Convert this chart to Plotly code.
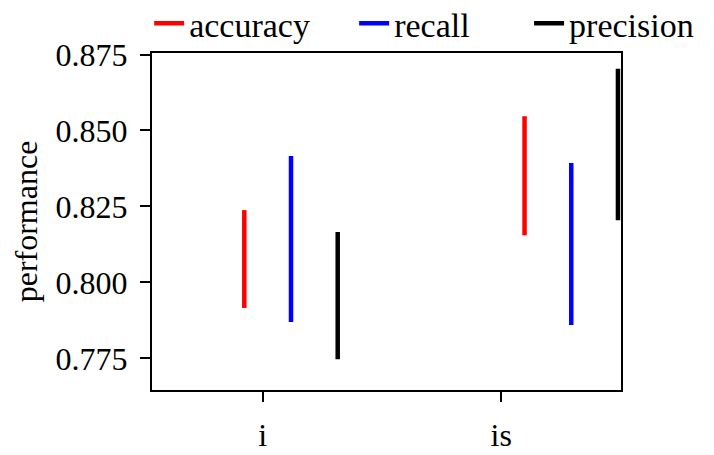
import plotly.graph_objects as go

# Categories and the low/high ends of each performance range
categories = ["i", "is"]
series_names = ["accuracy", "recall", "precision"]
accuracy_low = [0.7916, 0.8155]
accuracy_high = [0.8238, 0.8547]
recall_low = [0.7870, 0.7860]
recall_high = [0.8416, 0.8393]
precision_low = [0.7747, 0.8205]
precision_high = [0.8166, 0.8703]

colors = ["#ff0000", "#0000ff", "#000000"]
group_pos = [0.0, 1.0]
offsets = [-1 / 6, 0.0, 1 / 6]
tick_pos = [-0.101, 0.75]

lows = [accuracy_low, recall_low, precision_low]
highs = [accuracy_high, recall_high, precision_high]

FONT = "Liberation Serif"
FSIZE = 32
legend_ids = ["legend", "legend2", "legend3"]
legend_x = [-0.006, 0.431, 0.804]

fig = go.Figure()
for name, color, off, lo, hi, lid in zip(series_names, colors, offsets, lows, highs, legend_ids):
    xs, ys = [], []
    for g, a, b in zip(group_pos, lo, hi):
        xs += [g + off, g + off, None]
        ys += [a, b, None]
    fig.add_trace(go.Scatter(
        x=xs, y=ys, mode="lines", name=name,
        line=dict(color=color, width=4.5),
        hoverinfo="skip", legend=lid,
    ))

axis_common = dict(
    showline=True, linecolor="black", linewidth=2, mirror=True,
    ticks="outside", ticklen=10, tickwidth=2, tickcolor="black",
    showgrid=False, zeroline=False, automargin=False,
    tickfont=dict(family=FONT, size=FSIZE, color="black"),
)

legend_common = dict(
    orientation="h", xanchor="left", yref="container", y=0.948, yanchor="middle",
    font=dict(family=FONT, size=34, color="black"),
    bgcolor="rgba(0,0,0,0)", itemwidth=30,
)

fig.update_layout(
    width=714, height=455,
    margin=dict(l=152, r=93, t=53, b=65),
    plot_bgcolor="white", paper_bgcolor="white",
    font=dict(family=FONT, size=FSIZE, color="black"),
    showlegend=True,
    legend=dict(x=legend_x[0], **legend_common),
    legend2=dict(x=legend_x[1], **legend_common),
    legend3=dict(x=legend_x[2], **legend_common),
    xaxis=dict(
        range=[-0.496, 1.1775], tickvals=tick_pos, ticktext=categories,
        ticklabelstandoff=6,
        **axis_common,
    ),
    yaxis=dict(
        range=[0.7646, 0.8755], tickvals=[0.775, 0.8, 0.825, 0.85, 0.875],
        ticktext=["0.775", "0.800", "0.825", "0.850", "0.875"],
        ticklabelstandoff=6,
        title=dict(text="performance", standoff=8,
                   font=dict(family=FONT, size=FSIZE, color="black")),
        **axis_common,
    ),
)

fig.write_html("out.html")
